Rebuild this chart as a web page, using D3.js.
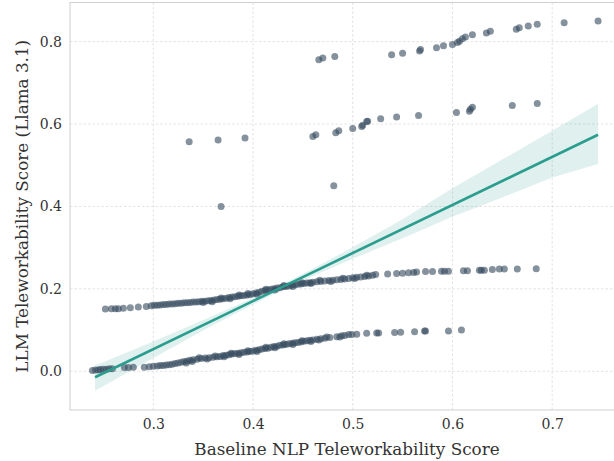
<!DOCTYPE html>
<html>
<head>
<meta charset="utf-8">
<script src="https://cdn.jsdelivr.net/npm/d3@7"></script>
<style>
  html, body { margin: 0; padding: 0; background: #ffffff; }
  svg { display: block; }
</style>
</head>
<body>
<svg id="chart" width="614" height="461"></svg>
<script>
// Baseline NLP score vs. LLM (Llama 3.1) score, one [baseline, llm] pair per occupation.
const lowerBand = [
  [0.239,0.002],[0.242,0.003],[0.245,0.003],[0.247,0.004],[0.250,0.005],[0.253,0.005],[0.256,0.006],[0.259,0.006],
  [0.271,0.009],[0.275,0.009],[0.280,0.010],
  [0.291,0.010],[0.296,0.011],[0.300,0.012],[0.304,0.013],[0.307,0.014],[0.310,0.014],[0.313,0.015],[0.316,0.016],
  [0.319,0.017],[0.322,0.019],[0.325,0.020],[0.328,0.022],[0.331,0.024],[0.334,0.025],[0.337,0.027],[0.340,0.028],
  [0.344,0.029],[0.348,0.031],[0.352,0.032],[0.356,0.033],[0.360,0.034],[0.364,0.035],[0.367,0.036],[0.370,0.038],
  [0.373,0.039],[0.376,0.040],[0.379,0.042],[0.382,0.043],[0.385,0.044],[0.388,0.045],[0.391,0.046],[0.394,0.047],
  [0.397,0.048],[0.400,0.049],[0.403,0.051],[0.406,0.052],[0.409,0.054],[0.412,0.055],[0.415,0.056],[0.418,0.058],
  [0.421,0.060],[0.424,0.061],[0.427,0.063],[0.430,0.064],[0.433,0.065],[0.436,0.067],[0.439,0.068],[0.442,0.069],
  [0.445,0.070],[0.448,0.071],[0.451,0.073],[0.454,0.074],[0.457,0.075],[0.460,0.076],[0.464,0.078],[0.468,0.079],
  [0.472,0.080],[0.477,0.082],[0.484,0.084],[0.489,0.086],[0.492,0.087],[0.499,0.089],[0.504,0.090],[0.514,0.092],
  [0.524,0.093],[0.526,0.093],
  [0.542,0.094],[0.548,0.095],[0.562,0.096],[0.572,0.098],[0.573,0.098],[0.596,0.098],[0.609,0.100],
  // occupations sitting just off the main trace
  [0.333,0.020],[0.339,0.024],[0.346,0.033],[0.354,0.030],[0.362,0.037],[0.371,0.035],[0.378,0.044],[0.386,0.041],
  [0.395,0.050],[0.404,0.048],[0.413,0.058],[0.422,0.057],[0.431,0.067],[0.440,0.065],[0.449,0.074],[0.458,0.072],
  [0.466,0.076],[0.474,0.083],[0.487,0.083],[0.496,0.089]
];

const upperBand = [
  [0.252,0.151],[0.258,0.152],[0.262,0.152],[0.265,0.152],[0.270,0.153],[0.277,0.154],[0.285,0.156],[0.293,0.157],
  [0.298,0.159],[0.301,0.160],[0.304,0.160],[0.307,0.161],[0.310,0.162],[0.313,0.162],[0.316,0.163],[0.319,0.163],
  [0.322,0.164],[0.325,0.165],[0.328,0.165],[0.331,0.166],[0.334,0.166],[0.337,0.167],[0.340,0.168],[0.343,0.168],
  [0.346,0.169],[0.349,0.170],[0.352,0.170],[0.355,0.171],[0.358,0.172],[0.361,0.173],[0.364,0.174],[0.367,0.175],
  [0.370,0.176],[0.373,0.177],[0.376,0.179],[0.379,0.180],[0.382,0.181],[0.385,0.182],[0.388,0.183],[0.391,0.184],
  [0.394,0.185],[0.397,0.186],[0.400,0.188],[0.403,0.190],[0.406,0.192],[0.409,0.194],[0.412,0.196],[0.415,0.197],
  [0.418,0.199],[0.421,0.200],[0.424,0.202],[0.427,0.203],[0.430,0.205],[0.433,0.206],[0.436,0.207],[0.439,0.209],
  [0.442,0.210],[0.445,0.211],[0.448,0.212],[0.451,0.213],[0.454,0.214],[0.457,0.215],[0.460,0.216],[0.464,0.217],
  [0.468,0.218],[0.472,0.219],[0.476,0.220],[0.480,0.221],[0.484,0.222],[0.488,0.223],[0.492,0.224],[0.496,0.225],
  [0.500,0.227],[0.504,0.228],[0.508,0.229],[0.512,0.230],[0.516,0.231],[0.520,0.233],[0.523,0.235],
  [0.535,0.236],[0.544,0.237],[0.550,0.238],[0.556,0.239],[0.561,0.240],[0.564,0.241],[0.573,0.242],[0.580,0.242],
  [0.589,0.243],[0.592,0.243],[0.596,0.243],[0.611,0.244],[0.615,0.244],[0.627,0.245],[0.629,0.245],[0.632,0.245],
  [0.640,0.247],[0.647,0.248],[0.652,0.248],[0.665,0.248],[0.684,0.249],
  // occupations sitting just off the main trace
  [0.350,0.167],[0.359,0.169],[0.368,0.178],[0.377,0.176],[0.386,0.185],[0.395,0.189],[0.404,0.187],[0.413,0.199],
  [0.422,0.197],[0.431,0.208],[0.440,0.206],[0.449,0.215],[0.458,0.213],[0.467,0.221],[0.478,0.218],[0.490,0.226],
  [0.502,0.225],[0.514,0.233]
];

const midBand = [
  [0.336,0.557],[0.365,0.561],[0.392,0.566],[0.460,0.570],[0.463,0.574],[0.483,0.579],[0.486,0.584],[0.500,0.589],
  [0.509,0.594],[0.510,0.597],[0.514,0.606],[0.515,0.607],[0.528,0.613],[0.544,0.617],[0.566,0.621],[0.604,0.628],
  [0.617,0.631],[0.618,0.636],[0.620,0.641],[0.660,0.645],[0.685,0.650]
];

const topBand = [
  [0.466,0.756],[0.470,0.760],[0.482,0.764],[0.539,0.768],[0.550,0.772],[0.567,0.777],[0.568,0.781],[0.584,0.785],
  [0.591,0.790],[0.600,0.793],[0.605,0.798],[0.607,0.801],[0.610,0.807],[0.613,0.811],[0.620,0.817],[0.634,0.821],
  [0.638,0.825],[0.664,0.830],[0.667,0.834],[0.676,0.838],[0.685,0.842],[0.712,0.846],[0.746,0.850]
];

const outliers = [[0.368,0.400],[0.481,0.450]];

// Linear fit and its 95% confidence band
const fitX  = [0.2416, 0.746];
const fitY  = [-0.0146, 0.574];
const bandX  = [0.2416, 0.28, 0.32, 0.36, 0.40, 0.43, 0.46, 0.50, 0.55, 0.60, 0.65, 0.70, 0.746];
const bandHi = [0.014, 0.052, 0.093, 0.135, 0.178, 0.212, 0.249, 0.301, 0.369, 0.444, 0.514, 0.584, 0.649];
const bandLo = [-0.047, 0.005, 0.059, 0.112, 0.162, 0.198, 0.231, 0.273, 0.323, 0.375, 0.422, 0.470, 0.503];

const xTicks = [0.3, 0.4, 0.5, 0.6, 0.7];
const yTicks = [0.0, 0.2, 0.4, 0.6, 0.8];

const xLabel = "Baseline NLP Teleworkability Score";
const yLabel = "LLM Teleworkability Score (Llama 3.1)";

// ---- layout ----
const plot = { left: 70, right: 623, top: 2.5, bottom: 410 };
const FONT = "'DejaVu Serif', serif";

const svg = d3.select("#chart");

const x = d3.scaleLinear().domain([0.2165, 0.771]).range([plot.left, plot.right]);
const y = d3.scaleLinear().domain([-0.094, 0.895]).range([plot.bottom, plot.top]);

// grid
const grid = svg.append("g");
grid.selectAll("line.gx").data(xTicks).join("line")
  .attr("x1", d => x(d)).attr("x2", d => x(d))
  .attr("y1", plot.top).attr("y2", plot.bottom)
  .attr("stroke", "#dcdcdc").attr("stroke-width", 0.8).attr("stroke-dasharray", "2.5,2");
grid.selectAll("line.gy").data(yTicks).join("line")
  .attr("y1", d => y(d)).attr("y2", d => y(d))
  .attr("x1", plot.left).attr("x2", plot.right)
  .attr("stroke", "#dcdcdc").attr("stroke-width", 0.8).attr("stroke-dasharray", "2.5,2");

// confidence band
const bandData = bandX.map((v, i) => [v, bandLo[i], bandHi[i]]);
svg.append("path")
  .datum(bandData)
  .attr("fill", "#2a9d8f").attr("fill-opacity", 0.15)
  .attr("d", d3.area().x(d => x(d[0])).y0(d => y(d[1])).y1(d => y(d[2])));

// points
const allPoints = [].concat(lowerBand, upperBand, midBand, topBand, outliers);
svg.append("g").selectAll("circle").data(allPoints).join("circle")
  .attr("cx", d => x(d[0])).attr("cy", d => y(d[1])).attr("r", 3.5)
  .attr("fill", "#34495e").attr("fill-opacity", 0.6);

// fit line
svg.append("path")
  .datum(fitX.map((v, i) => [v, fitY[i]]))
  .attr("fill", "none").attr("stroke", "#2a9d8f").attr("stroke-width", 2.6)
  .attr("d", d3.line().x(d => x(d[0])).y(d => y(d[1])));

// frame
svg.append("rect")
  .attr("x", plot.left).attr("y", plot.top)
  .attr("width", plot.right - plot.left).attr("height", plot.bottom - plot.top)
  .attr("fill", "none").attr("stroke", "#d0d0d0").attr("stroke-width", 1);

// axes (labels only, no tick marks)
const xAxis = svg.append("g").attr("transform", `translate(0,${plot.bottom})`)
  .call(d3.axisBottom(x).tickValues(xTicks).tickFormat(d3.format(".1f")).tickSize(0).tickPadding(9));
const yAxis = svg.append("g").attr("transform", `translate(${plot.left},0)`)
  .call(d3.axisLeft(y).tickValues(yTicks).tickFormat(d3.format(".1f")).tickSize(0).tickPadding(8));
[xAxis, yAxis].forEach(a => {
  a.select(".domain").remove();
  a.selectAll("text").attr("font-family", FONT).attr("font-size", 14).attr("fill", "#333");
});

svg.append("text")
  .attr("x", 347).attr("y", 455)
  .attr("text-anchor", "middle")
  .attr("font-family", FONT).attr("font-size", 16.8).attr("fill", "#333")
  .text(xLabel);

svg.append("text")
  .attr("transform", `translate(28,${(plot.top + plot.bottom) / 2}) rotate(-90)`)
  .attr("text-anchor", "middle")
  .attr("font-family", FONT).attr("font-size", 16.8).attr("fill", "#333")
  .text(yLabel);
</script>
</body>
</html>
